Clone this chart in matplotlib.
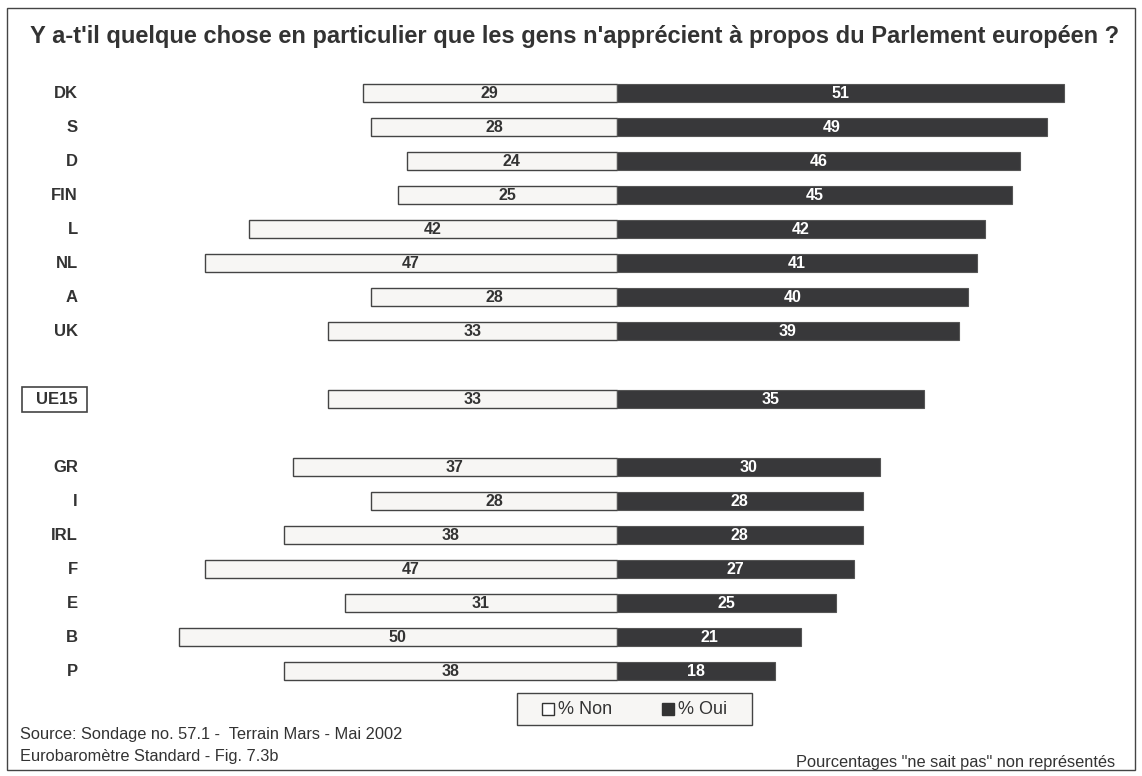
import numpy as np
import matplotlib
matplotlib.use('Agg')
import matplotlib.pyplot as plt
from matplotlib.patches import Rectangle

plt.rcParams['font.family'] = ['Liberation Sans', 'DejaVu Sans']

# Data
countries = ['DK', 'S', 'D', 'FIN', 'L', 'NL', 'A', 'UK',
             'UE15',
             'GR', 'I', 'IRL', 'F', 'E', 'B', 'P']
non = [29, 28, 24, 25, 42, 47, 28, 33,
       33,
       37, 28, 38, 47, 31, 50, 38]
oui = [51, 49, 46, 45, 42, 41, 40, 39,
       35,
       30, 28, 28, 27, 25, 21, 18]
rows = [0, 1, 2, 3, 4, 5, 6, 7, 9, 11, 12, 13, 14, 15, 16, 17]
legend_labels = ['% Non', '% Oui']

W, H = 1142, 776
fig = plt.figure(figsize=(W / 100, H / 100), dpi=100)
ax = fig.add_axes([0, 0, 1, 1])

# pixel mapping: centre at 617 px, 8.77 px per percent, rows 34 px apart
cx, sx = 617, 8.77
y0, sy = 93, 34
ax.set_xlim(-cx / sx, (W - cx) / sx)
ax.set_ylim((H - y0) / sy, -y0 / sy)
ax.axis('off')

def fx(px):
    return px / W

def fy(py):
    return 1 - py / H

txt = '#333333'
non_col = '#f7f6f4'
oui_col = '#38383a'
bh = 18 / sy
ax.barh(rows, [-v for v in non], height=bh, color=non_col,
        edgecolor='#444444', linewidth=1)
ax.barh(rows, oui, height=bh, color=oui_col,
        edgecolor='#555555', linewidth=0.8)

for r, c, n, o in zip(rows, countries, non, oui):
    ax.text(-n / 2, r, str(n), ha='center', va='center', fontsize=11.5,
            fontweight='bold', color=txt)
    ax.text(o / 2, r, str(o), ha='center', va='center', fontsize=11.5,
            fontweight='bold', color='white')
    ax.text((78 - cx) / sx, r, c, ha='right', va='center', fontsize=12,
            fontweight='bold', color=txt)
    if c == 'UE15':
        ax.add_patch(Rectangle(((22 - cx) / sx, r - 12.5 / sy), 65 / sx,
                               25 / sy, fill=False, ec='#444444', lw=1.2))

# Title
fig.text(fx(575), fy(43),
         "Y a-t'il quelque chose en particulier que les gens n'apprécient "
         "à propos du Parlement européen ?",
         ha='center', va='baseline', fontsize=17, fontweight='bold', color=txt)

# Outer frame
fig.patches.append(Rectangle((fx(7), fy(770)), (W - 14) / W, (770 - 8) / H,
                             transform=fig.transFigure, fill=False,
                             ec='#444444', lw=1))

# Legend (drawn by hand to match the boxed layout)
fig.patches.append(Rectangle((fx(517), fy(725)), 235 / W, 32 / H,
                             transform=fig.transFigure, fc=non_col,
                             ec='#444444', lw=1))
for sq_x, fc, lab in zip([542, 662], ['white', '#333333'], legend_labels):
    fig.patches.append(Rectangle((fx(sq_x), fy(715)), 12 / W, 12 / H,
                                 transform=fig.transFigure, fc=fc,
                                 ec='#333333', lw=1))
    fig.text(fx(sq_x + 16), fy(709), lab, ha='left', va='center',
             fontsize=13, color=txt)

# Notes
fig.text(fx(20), fy(735), 'Source: Sondage no. 57.1 -  Terrain Mars - Mai 2002',
         ha='left', va='center', fontsize=11.8, color=txt)
fig.text(fx(20), fy(757), 'Eurobaromètre Standard - Fig. 7.3b',
         ha='left', va='center', fontsize=11.8, color=txt)
fig.text(fx(1115), fy(762), 'Pourcentages "ne sait pas" non représentés',
         ha='right', va='center', fontsize=11.8, color=txt)

fig.savefig('out.png', dpi=100, facecolor='white')
